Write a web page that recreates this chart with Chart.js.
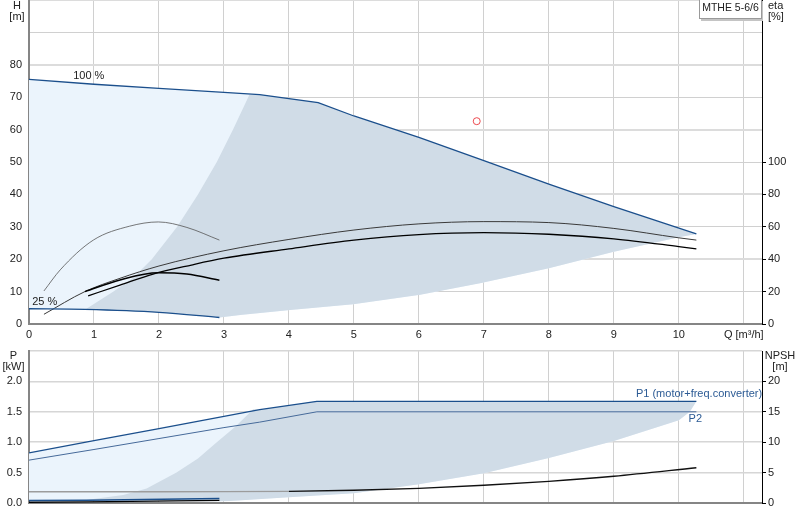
<!DOCTYPE html>
<html>
<head>
<meta charset="utf-8">
<script src="https://cdn.jsdelivr.net/npm/chart.js@4.4.1/dist/chart.umd.min.js"></script>
<style>
  html, body { margin: 0; padding: 0; background: #fff; }
  #wrap { position: relative; width: 800px; height: 520px; overflow: hidden; }
  #wrap canvas { position: absolute; left: 0; }
  #top { top: 0; }
  #bottom { top: 345px; }
</style>
</head>
<body>
<div id="wrap">
  <canvas id="top" width="800" height="345"></canvas>
  <canvas id="bottom" width="800" height="175"></canvas>
</div>
<script>
// Q axis ticks [m3/h]
const flowTicks = [0, 1, 2, 3, 4, 5, 6, 7, 8, 9, 10, 11];
const headTicks = [0, 10, 20, 30, 40, 50, 60, 70, 80, 90, 100];
const etaTicks = [0, 20, 40, 60, 80, 100];
const powerTicks = [0, 0.5, 1.0, 1.5, 2.0, 2.5];
const npshTicks = [0, 5, 10, 15, 20];

// H curve at 100 % speed
const flowFull = [0, 1, 2, 3, 3.55, 4.45, 5, 6, 7, 8, 9, 10.27];
const headFull = [75.5, 74.0, 72.7, 71.5, 70.8, 68.3, 64.2, 57.6, 50.4, 43.2, 36.2, 27.8];

// H curve at 25 % speed
const flowMin = [0, 0.86, 2, 2.93];
const headMin = [4.7, 4.5, 3.6, 2.0];

// recommended area (dark) boundaries, H
const flowAreaLeft = [0.86, 1.3, 1.6, 1.89, 2.28, 2.6, 2.89, 3.14, 3.39];
const headAreaLeft = [4.4, 10.0, 14.2, 20.0, 30.0, 40.0, 50.0, 60.0, 70.7];
const flowAreaLow = [2.93, 3.25, 4.02, 4.99, 6.02, 6.94, 8, 9, 10, 10.27];
const headAreaLow = [2.0, 2.8, 4.3, 6.1, 9.0, 12.6, 17.2, 22.3, 26.8, 27.8];

// efficiency curves [%]
const flowEtaLow = [0.23, 0.48, 0.99, 1.55, 1.99, 2.43, 2.93];
const etaLow = [20.4, 33.4, 51.8, 60.4, 63.0, 59.6, 51.8];
const flowEtaLowTot = [0.86, 1.4, 1.99, 2.43, 2.93];
const etaLowTot = [20.0, 27.2, 31.6, 30.8, 27.0];
const flowEtaPump = [0.23, 0.86, 1.4, 2, 3, 4, 5, 6, 7, 8, 9, 10, 10.27];
const etaPump = [6.0, 20.0, 28.2, 35.8, 45.2, 52.2, 58.0, 61.8, 63.2, 62.6, 59.0, 53.2, 51.8];
const flowEtaTotal = [0.91, 1.4, 1.91, 2.5, 3, 4, 5, 6, 7, 8, 9, 10, 10.27];
const etaTotal = [17.4, 24.0, 30.8, 36.4, 40.6, 46.4, 51.8, 55.2, 56.4, 55.4, 52.6, 47.8, 46.4];

// duty point
const dutyFlow = [6.89];
const dutyHead = [62.6];

// power curves [kW]
const flowPower = [0, 1, 2, 3, 3.55, 4.43, 10.27];
const p1Full = [0.825, 1.025, 1.225, 1.425, 1.535, 1.672, 1.672];
const p2Full = [0.705, 0.88, 1.06, 1.24, 1.33, 1.50, 1.50];
const flowPowerMin = [0, 0.89, 2.93];
const p1Min = [0.04, 0.045, 0.072];
const p2Min = [0.012, 0.02, 0.042];

// power area boundaries
const flowPAreaLeft = [0.83, 0.99, 1.45, 1.81, 2.27, 2.6, 2.89, 3.17, 3.45];
const pAreaLeft = [0.04, 0.066, 0.13, 0.24, 0.5, 0.73, 1.0, 1.25, 1.54];
const flowPAreaLow = [2.93, 3.09, 4, 5, 6, 7, 8, 9, 10, 10.17, 10.27];
const pAreaLow = [0.03, 0.033, 0.093, 0.16, 0.31, 0.49, 0.74, 1.02, 1.36, 1.5, 1.672];

// NPSH [m]
const flowNpsh = [0, 1, 2, 3, 4, 5, 6, 7, 8, 9, 10.27];
const npsh = [1.85, 1.85, 1.85, 1.86, 1.92, 2.1, 2.42, 2.92, 3.56, 4.4, 5.8];

const FONT = '"Liberation Sans", Arial, sans-serif';
const TXT = '#222';
const LIGHT = '#ebf4fc';
const DARK = '#d0dce7';
const BLUE = '#1b4f8c';
const BLUE2 = '#466a9a';
const GRID = '#d0d0d0';

Chart.defaults.font.family = FONT;
Chart.defaults.font.size = 11;
Chart.defaults.color = TXT;

function pts(xs, ys) {
    return xs.map((x, i) => ({ x: x, y: ys[i] }));
}

function setTicks(values) {
    return scale => { scale.ticks = values.map(v => ({ value: v })); };
}

function fixWidth(w) {
    return scale => { scale.width = w; scale.paddingTop = 0; scale.paddingBottom = 0; };
}

function fixHeight(h) {
    return scale => { scale.height = h; scale.paddingLeft = 0; scale.paddingRight = 0; };
}

function area(points, color, order) {
    return {
        data: points, fill: 'shape', backgroundColor: color,
        borderColor: 'rgba(0,0,0,0)', borderWidth: 0, pointRadius: 0,
        tension: 0, order: order
    };
}

function curve(points, color, width, axis, smooth) {
    return {
        data: points, fill: false, borderColor: color, borderWidth: width,
        pointRadius: 0, yAxisID: axis, order: 1,
        tension: smooth ? 0.4 : 0,
        cubicInterpolationMode: smooth ? 'monotone' : 'default'
    };
}

// ---------- top chart polygons ----------
const lastLeftQ = flowAreaLeft[flowAreaLeft.length - 1];
const topLight = pts(flowFull, headFull)
    .concat(pts(flowAreaLow, headAreaLow).reverse())
    .concat(pts(flowMin, headMin).reverse());
const topDark = pts(flowAreaLeft, headAreaLeft)
    .concat(pts(flowFull, headFull).filter(p => p.x > lastLeftQ))
    .concat(pts(flowAreaLow, headAreaLow).reverse())
    .concat(pts(flowMin, headMin).filter(p => p.x >= flowAreaLeft[0]).reverse());

const topTexts = {
    id: 'topTexts',
    afterDraw(chart) {
        const { ctx, scales } = chart;
        ctx.save();
        ctx.font = '11px ' + FONT;
        ctx.fillStyle = TXT;
        ctx.textBaseline = 'middle';
        ctx.textAlign = 'center';
        ctx.fillText('H', 17, 6);
        ctx.fillText('[m]', 17, 17);
        ctx.textAlign = 'left';
        ctx.fillText('eta', 768, 6);
        ctx.fillText('[%]', 768, 17);
        ctx.fillText('100 %', scales.x.getPixelForValue(0.68), scales.y.getPixelForValue(76.6));
        ctx.fillText('25 %', scales.x.getPixelForValue(0.05), scales.y.getPixelForValue(6.9));
        // product box
        ctx.fillStyle = '#c4c4c4';
        ctx.fillRect(701, 1, 62, 20);
        ctx.fillStyle = '#fff';
        ctx.fillRect(699, -1, 63, 20);
        ctx.strokeStyle = '#9a9a9a';
        ctx.lineWidth = 1;
        ctx.strokeRect(699.5, -0.5, 62, 19);
        ctx.fillStyle = TXT;
        ctx.textAlign = 'center';
        ctx.font = '10.5px ' + FONT;
        ctx.fillText('MTHE 5-6/6', 730.5, 8);
        ctx.restore();
    }
};

new Chart(document.getElementById('top'), {
    type: 'line',
    data: {
        datasets: [
            area(topLight, LIGHT, 20),
            area(topDark, DARK, 19),
            curve(pts(flowFull, headFull), BLUE, 1.3, 'y', false),
            curve(pts(flowMin, headMin), BLUE, 1.3, 'y', true),
            curve(pts(flowEtaLow, etaLow), '#555', 0.8, 'yEta', true),
            curve(pts(flowEtaLowTot, etaLowTot), '#000', 1.5, 'yEta', true),
            curve(pts(flowEtaPump, etaPump), '#3a3a3a', 1, 'yEta', true),
            curve(pts(flowEtaTotal, etaTotal), '#000', 1.3, 'yEta', true),
            {
                data: pts(dutyFlow, dutyHead), showLine: false, pointRadius: 3.5,
                pointStyle: 'circle', pointBorderColor: '#ec4a4f',
                pointBackgroundColor: 'rgba(0,0,0,0)', pointBorderWidth: 1, order: 0
            }
        ]
    },
    options: {
        responsive: false,
        animation: false,
        events: [],
        layout: { padding: 0, autoPadding: false },
        plugins: { legend: { display: false }, tooltip: { enabled: false } },
        scales: {
            x: {
                type: 'linear', min: 0, max: 11.28,
                afterBuildTicks: setTicks(flowTicks),
                afterFit: fixHeight(21),
                ticks: {
                    autoSkip: false, maxRotation: 0, padding: 4,
                    callback: v => v === 11 ? 'Q [m³/h]' : String(v)
                },
                grid: { color: GRID, drawTicks: false },
                border: { color: '#858585', width: 2 }
            },
            y: {
                position: 'left', min: 0, max: 100,
                afterBuildTicks: setTicks(headTicks),
                afterFit: fixWidth(29),
                ticks: { padding: 7, callback: v => v <= 80 ? String(v) : '' },
                grid: {
                    drawTicks: false,
                    color: c => c.tick && c.tick.value % 20 === 0 ? '#dcdcdc' : GRID,
                    lineWidth: c => c.tick && c.tick.value % 20 === 0 ? 2 : 1
                },
                border: { color: '#858585', width: 2 }
            },
            yEta: {
                position: 'right', min: 0, max: 200,
                afterBuildTicks: setTicks(etaTicks),
                afterFit: fixWidth(38),
                ticks: { padding: 2 },
                grid: { drawOnChartArea: false, drawTicks: true, tickLength: 4, color: '#000' },
                border: { color: '#000', width: 1 }
            }
        }
    },
    plugins: [topTexts]
});

// ---------- bottom chart polygons ----------
const lastPLeftQ = flowPAreaLeft[flowPAreaLeft.length - 1];
const botLight = pts(flowPower, p1Full)
    .concat(pts(flowPAreaLow, pAreaLow).reverse())
    .concat(pts(flowPowerMin, p1Min).reverse());
const botDark = pts(flowPAreaLeft, pAreaLeft)
    .concat(pts(flowPower, p1Full).filter(p => p.x > lastPLeftQ))
    .concat(pts(flowPAreaLow, pAreaLow).reverse());

const bottomTexts = {
    id: 'bottomTexts',
    afterDraw(chart) {
        const { ctx, scales } = chart;
        ctx.save();
        ctx.font = '11px ' + FONT;
        ctx.fillStyle = TXT;
        ctx.textBaseline = 'middle';
        ctx.textAlign = 'center';
        ctx.fillText('P', 13.5, 11);
        ctx.fillText('[kW]', 13.5, 22);
        ctx.fillText('NPSH', 780, 11);
        ctx.fillText('[m]', 780, 22);
        ctx.textAlign = 'left';
        ctx.fillStyle = '#2b5a94';
        ctx.fillText('P1 (motor+freq.converter)', scales.x.getPixelForValue(9.34), scales.y.getPixelForValue(1.8));
        ctx.fillText('P2', scales.x.getPixelForValue(10.15), scales.y.getPixelForValue(1.39));
        ctx.restore();
    }
};

new Chart(document.getElementById('bottom'), {
    type: 'line',
    data: {
        datasets: [
            area(botLight, LIGHT, 20),
            area(botDark, DARK, 19),
            curve(pts(flowPower, p1Full), BLUE, 1.3, 'y', false),
            curve(pts(flowPower, p2Full), BLUE2, 1, 'y', false),
            curve(pts(flowPowerMin, p1Min), BLUE, 1.5, 'y', false),
            curve(pts(flowPowerMin, p2Min), '#000', 1.3, 'y', false),
            Object.assign(curve(pts(flowNpsh, npsh), '#111', 1.3, 'yNpsh', true), {
                segment: { borderColor: c => c.p0.parsed.x < 3.5 ? '#9c9c9c' : '#111' }
            })
        ]
    },
    options: {
        responsive: false,
        animation: false,
        events: [],
        layout: { padding: { top: 6, bottom: 0, left: 0, right: 0 }, autoPadding: false },
        plugins: { legend: { display: false }, tooltip: { enabled: false } },
        scales: {
            x: {
                type: 'linear', min: 0, max: 11.28,
                afterBuildTicks: setTicks(flowTicks),
                afterFit: fixHeight(17),
                ticks: { display: false },
                grid: { color: GRID, drawTicks: false },
                border: { color: '#858585', width: 2 }
            },
            y: {
                position: 'left', min: 0, max: 2.5,
                afterBuildTicks: setTicks(powerTicks),
                afterFit: fixWidth(29),
                ticks: { padding: 7, callback: v => v <= 2 ? v.toFixed(1) : '' },
                grid: { drawTicks: false, color: '#d6d6d6', lineWidth: 1.5 },
                border: { color: '#858585', width: 2 }
            },
            yNpsh: {
                position: 'right', min: 0, max: 25,
                afterBuildTicks: setTicks(npshTicks),
                afterFit: fixWidth(38),
                ticks: { padding: 2 },
                grid: { drawOnChartArea: false, drawTicks: true, tickLength: 4, color: '#000' },
                border: { color: '#000', width: 1 }
            }
        }
    },
    plugins: [bottomTexts]
});
</script>
</body>
</html>
